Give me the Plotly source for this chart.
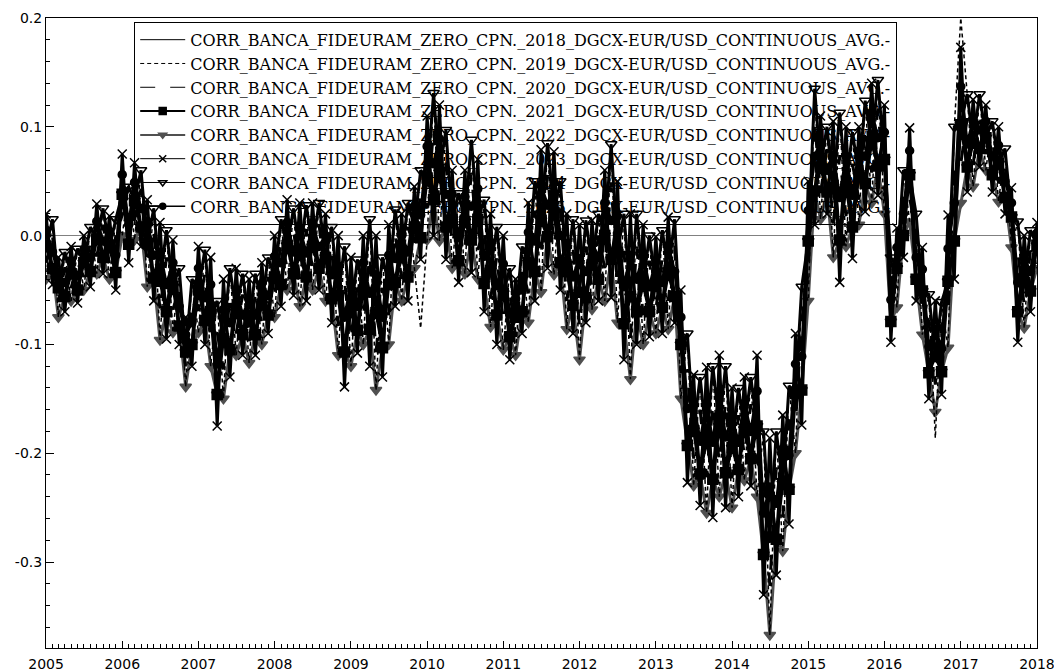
import pandas as pd
import plotly.graph_objects as go

# Monthly observation dates, Jan 2005 .. Jan 2018 (157 points)
dates = pd.date_range("2005-01-01", "2018-01-01", freq="MS")

names = [
    "CORR_BANCA_FIDEURAM_ZERO_CPN._2018_DGCX-EUR/USD_CONTINUOUS_AVG.-",
    "CORR_BANCA_FIDEURAM_ZERO_CPN._2019_DGCX-EUR/USD_CONTINUOUS_AVG.-",
    "CORR_BANCA_FIDEURAM_ZERO_CPN._2020_DGCX-EUR/USD_CONTINUOUS_AVG.-",
    "CORR_BANCA_FIDEURAM_ZERO_CPN._2021_DGCX-EUR/USD_CONTINUOUS_AVG.-",
    "CORR_BANCA_FIDEURAM_ZERO_CPN._2022_DGCX-EUR/USD_CONTINUOUS_AVG.-",
    "CORR_BANCA_FIDEURAM_ZERO_CPN._2023_DGCX-EUR/USD_CONTINUOUS_AVG.-",
    "CORR_BANCA_FIDEURAM_ZERO_CPN._2024_DGCX-EUR/USD_CONTINUOUS_AVG.-",
    "CORR_BANCA_FIDEURAM_ZERO_CPN._2025_DGCX-EUR/USD_CONTINUOUS_AVG.-",
]

s2018 = [0.005, -0.03, -0.034, -0.056, -0.023, -0.05, -0.013, -0.033, 0.013, -0.02,
         0.004, -0.034, 0.056, -0.008, 0.049, 0.008, 0.013, -0.039, -0.015, -0.07,
         -0.025, -0.083, -0.091, -0.1, -0.03, -0.078, -0.045, -0.146, -0.068, -0.105,
         -0.05, -0.091, -0.059, -0.091, -0.044, -0.073, -0.019, -0.045, 0.012, -0.035,
         0.006, -0.038, 0.01, -0.03, 0.0, -0.058, -0.028, -0.107, -0.045, -0.087,
         -0.025, -0.086, -0.036, -0.103, -0.018, -0.043, 0.0, -0.038, 0.026, -0.002,
         0.082, 0.033, 0.089, 0.008, 0.038, -0.023, 0.036, -0.004, 0.043, -0.044,
         -0.006, -0.073, -0.026, -0.093, -0.058, -0.07, 0.003, -0.033, 0.046, -0.001,
         0.049, -0.025, -0.007, -0.064, -0.021, -0.057, -0.007, -0.04, 0.03, -0.022,
         0.018, -0.081, -0.018, -0.07, -0.018, -0.07, -0.023, -0.066, -0.009, -0.056,
         -0.075, -0.193, -0.154, -0.219, -0.155, -0.224, -0.143, -0.218, -0.168, -0.215,
         -0.154, -0.205, -0.143, -0.293, -0.231, -0.279, -0.196, -0.233, -0.118, -0.142,
         0.023, 0.041, 0.086, 0.04, 0.074, -0.004, 0.073, 0.008, 0.078, 0.048,
         0.113, 0.064, 0.095, -0.079, -0.011, 0.0, 0.078, -0.04, -0.031, -0.126,
         -0.086, -0.125, -0.012, -0.005, 0.137, 0.063, 0.105, 0.08, 0.105, 0.056,
         0.083, 0.035, 0.03, -0.07, -0.021, -0.051, 0.002]

s2019 = [-0.04, 0.015, -0.075, -0.015, -0.06, -0.012, -0.05, 0.008, -0.035, 0.025,
         -0.04, 0.015, 0.0, 0.045, -0.004, 0.06, -0.047, 0.025, -0.096, 0.005,
         -0.089, -0.03, -0.139, -0.04, -0.089, -0.013, -0.12, -0.06, -0.15, -0.03,
         -0.11, -0.035, -0.117, -0.035, -0.1, -0.02, -0.075, 0.015, -0.05, 0.025,
         -0.065, 0.028, -0.05, 0.03, -0.06, 0.008, -0.11, -0.01, -0.12, -0.022,
         -0.1, 0.015, -0.142, -0.02, -0.1, 0.024, -0.06, 0.03, -0.03, -0.085,
         -0.004, 0.131, -0.005, 0.097, -0.03, 0.039, -0.035, 0.088, -0.04, 0.033,
         -0.084, 0.008, -0.105, -0.03, -0.11, -0.01, -0.08, 0.05, -0.052, 0.085,
         -0.036, 0.05, -0.086, 0.015, -0.114, 0.014, -0.068, 0.02, -0.06, 0.084,
         -0.08, 0.02, -0.132, 0.02, -0.1, 0.0, -0.09, 0.005, -0.086, 0.015,
         -0.15, -0.09, -0.23, -0.13, -0.255, -0.12, -0.24, -0.12, -0.25, -0.14,
         -0.225, -0.13, -0.24, -0.18, -0.367, -0.18, -0.29, -0.138, -0.2, -0.047,
         -0.06, 0.135, 0.015, 0.1, -0.02, 0.113, -0.01, 0.095, 0.01, 0.124,
         0.03, 0.143, 0.02, -0.02, -0.066, 0.06, 0.013, 0.02, -0.091, -0.054,
         -0.186, -0.061, -0.103, 0.1, 0.2, 0.13, 0.045, 0.13, 0.06, 0.105,
         0.031, 0.08, -0.011, 0.013, -0.085, 0.005, -0.03]

s2020 = [-0.025, 0.0, -0.061, -0.029, -0.048, -0.025, -0.038, -0.006, -0.019, 0.01,
         -0.026, -0.001, 0.019, 0.028, 0.014, 0.043, -0.027, 0.004, -0.069, -0.02,
         -0.068, -0.048, -0.123, -0.06, -0.069, -0.035, -0.095, -0.089, -0.123, -0.055,
         -0.09, -0.054, -0.098, -0.054, -0.081, -0.038, -0.056, -0.005, -0.029, 0.005,
         -0.041, 0.006, -0.03, 0.01, -0.04, -0.014, -0.083, -0.042, -0.095, -0.044,
         -0.075, -0.019, -0.107, -0.048, -0.073, 0.002, -0.04, 0.008, -0.011, 0.04,
         0.025, 0.098, 0.026, 0.067, -0.008, 0.019, -0.011, 0.058, -0.013, 0.007,
         -0.058, -0.019, -0.079, -0.051, -0.093, -0.03, -0.053, 0.023, -0.019, 0.056,
         -0.008, 0.025, -0.06, -0.011, -0.083, -0.01, -0.048, 0.0, -0.03, 0.049,
         -0.048, -0.014, -0.094, -0.01, -0.073, -0.023, -0.068, -0.019, -0.06, -0.009,
         -0.125, -0.124, -0.205, -0.16, -0.222, -0.155, -0.208, -0.153, -0.223, -0.165,
         -0.201, -0.155, -0.208, -0.218, -0.322, -0.213, -0.259, -0.17, -0.173, -0.079,
         -0.033, 0.104, 0.039, 0.08, 0.011, 0.074, 0.018, 0.066, 0.033, 0.099,
         0.058, 0.117, 0.045, -0.04, -0.048, 0.04, 0.035, 0.0, -0.071, -0.078,
         -0.137, -0.082, -0.073, 0.065, 0.066, 0.108, 0.065, 0.113, 0.075, 0.089,
         0.048, 0.065, 0.003, -0.015, -0.064, -0.014, -0.02]

s2021 = [-0.01, -0.03, -0.048, -0.056, -0.035, -0.05, -0.025, -0.033, -0.003, -0.02,
         -0.011, -0.034, 0.038, -0.008, 0.032, 0.008, -0.007, -0.039, -0.042, -0.07,
         -0.047, -0.083, -0.107, -0.1, -0.05, -0.078, -0.07, -0.146, -0.095, -0.105,
         -0.07, -0.091, -0.079, -0.091, -0.063, -0.073, -0.038, -0.045, -0.009, -0.035,
         -0.018, -0.038, -0.01, -0.03, -0.02, -0.058, -0.055, -0.107, -0.07, -0.087,
         -0.05, -0.086, -0.071, -0.103, -0.045, -0.043, -0.02, -0.038, 0.008, -0.002,
         0.053, 0.033, 0.058, 0.008, 0.015, -0.023, 0.013, -0.004, 0.015, -0.044,
         -0.032, -0.073, -0.053, -0.093, -0.075, -0.07, -0.025, -0.033, 0.014, -0.001,
         0.021, -0.025, -0.033, -0.064, -0.052, -0.057, -0.027, -0.04, 0.0, -0.022,
         -0.015, -0.081, -0.056, -0.07, -0.045, -0.07, -0.046, -0.066, -0.035, -0.056,
         -0.1, -0.193, -0.179, -0.219, -0.188, -0.224, -0.175, -0.218, -0.195, -0.215,
         -0.178, -0.205, -0.175, -0.293, -0.277, -0.279, -0.228, -0.233, -0.145, -0.142,
         -0.005, 0.041, 0.063, 0.04, 0.043, -0.004, 0.045, 0.008, 0.055, 0.048,
         0.085, 0.064, 0.07, -0.079, -0.03, 0.0, 0.056, -0.04, -0.051, -0.126,
         -0.111, -0.125, -0.042, -0.005, 0.102, 0.063, 0.085, 0.08, 0.09, 0.056,
         0.066, 0.035, 0.017, -0.07, -0.043, -0.051, -0.009]

s2022 = [-0.04, -0.03, -0.075, -0.056, -0.06, -0.05, -0.05, -0.033, -0.035, -0.02,
         -0.04, -0.034, 0.0, -0.008, -0.004, 0.008, -0.047, -0.039, -0.096, -0.07,
         -0.089, -0.083, -0.139, -0.1, -0.089, -0.078, -0.12, -0.146, -0.15, -0.105,
         -0.11, -0.091, -0.117, -0.091, -0.1, -0.073, -0.075, -0.045, -0.05, -0.035,
         -0.065, -0.038, -0.05, -0.03, -0.06, -0.058, -0.11, -0.107, -0.12, -0.087,
         -0.1, -0.086, -0.142, -0.103, -0.1, -0.043, -0.06, -0.038, -0.03, -0.002,
         -0.004, 0.033, -0.005, 0.008, -0.03, -0.023, -0.035, -0.004, -0.04, -0.044,
         -0.084, -0.073, -0.105, -0.093, -0.11, -0.07, -0.08, -0.033, -0.052, -0.001,
         -0.036, -0.025, -0.086, -0.064, -0.114, -0.057, -0.068, -0.04, -0.06, -0.022,
         -0.08, -0.081, -0.132, -0.07, -0.1, -0.07, -0.09, -0.066, -0.086, -0.056,
         -0.15, -0.193, -0.23, -0.219, -0.255, -0.224, -0.24, -0.218, -0.25, -0.215,
         -0.225, -0.205, -0.24, -0.293, -0.367, -0.279, -0.29, -0.233, -0.2, -0.142,
         -0.06, 0.041, 0.015, 0.04, -0.02, -0.004, -0.01, 0.008, 0.01, 0.048,
         0.03, 0.064, 0.02, -0.079, -0.066, 0.0, 0.013, -0.04, -0.091, -0.126,
         -0.162, -0.125, -0.103, -0.005, 0.03, 0.063, 0.045, 0.08, 0.06, 0.056,
         0.031, 0.035, -0.011, -0.07, -0.085, -0.051, -0.03]

s2023 = [0.02, -0.045, -0.02, -0.07, -0.01, -0.062, 0.0, -0.047, 0.029, -0.035,
         0.018, -0.05, 0.075, -0.025, 0.067, -0.01, 0.033, -0.06, 0.012, -0.095,
         -0.004, -0.1, -0.075, -0.12, -0.01, -0.1, -0.02, -0.175, -0.04, -0.13,
         -0.03, -0.11, -0.04, -0.11, -0.025, -0.09, 0.0, -0.065, 0.033, -0.055,
         0.03, -0.06, 0.03, -0.05, 0.02, -0.08, 0.0, -0.139, -0.02, -0.108,
         0.0, -0.12, 0.0, -0.13, 0.01, -0.065, 0.02, -0.06, 0.045, -0.022,
         0.11, 0.0, 0.12, -0.022, 0.06, -0.043, 0.06, -0.034, 0.07, -0.07,
         0.02, -0.1, 0.0, -0.114, -0.04, -0.09, 0.03, -0.06, 0.079, -0.03,
         0.077, -0.05, 0.02, -0.09, 0.01, -0.08, 0.014, -0.06, 0.06, -0.057,
         0.05, -0.114, 0.02, -0.1, 0.01, -0.093, -0.001, -0.09, 0.017, -0.08,
         -0.05, -0.227, -0.128, -0.248, -0.121, -0.259, -0.11, -0.25, -0.14, -0.24,
         -0.13, -0.23, -0.11, -0.33, -0.186, -0.312, -0.165, -0.265, -0.09, -0.174,
         0.05, 0.01, 0.11, 0.02, 0.105, -0.043, 0.1, -0.021, 0.1, 0.022,
         0.14, 0.037, 0.12, -0.098, 0.007, -0.02, 0.099, -0.06, -0.011, -0.15,
         -0.06, -0.146, 0.019, -0.04, 0.173, 0.04, 0.125, 0.063, 0.12, 0.04,
         0.1, 0.02, 0.044, -0.098, 0.0, -0.07, 0.012]

s2024 = [-0.01, 0.015, -0.048, -0.015, -0.035, -0.012, -0.025, 0.008, -0.003, 0.025,
         -0.011, 0.015, 0.038, 0.045, 0.032, 0.06, -0.007, 0.025, -0.042, 0.005,
         -0.047, -0.03, -0.107, -0.04, -0.05, -0.013, -0.07, -0.06, -0.095, -0.03,
         -0.07, -0.035, -0.079, -0.035, -0.063, -0.02, -0.038, 0.015, -0.009, 0.025,
         -0.018, 0.028, -0.01, 0.03, -0.02, 0.008, -0.055, -0.01, -0.07, -0.022,
         -0.05, 0.015, -0.071, -0.02, -0.045, 0.024, -0.02, 0.03, 0.008, 0.06,
         0.053, 0.131, 0.058, 0.097, 0.015, 0.039, 0.013, 0.088, 0.015, 0.033,
         -0.032, 0.008, -0.053, -0.03, -0.075, -0.01, -0.025, 0.05, 0.014, 0.085,
         0.021, 0.05, -0.033, 0.015, -0.052, 0.014, -0.027, 0.02, 0.0, 0.084,
         -0.015, 0.02, -0.056, 0.02, -0.045, 0.0, -0.046, 0.005, -0.035, 0.015,
         -0.1, -0.09, -0.179, -0.13, -0.188, -0.12, -0.175, -0.12, -0.195, -0.14,
         -0.178, -0.13, -0.175, -0.18, -0.277, -0.18, -0.228, -0.138, -0.145, -0.047,
         -0.005, 0.135, 0.063, 0.1, 0.043, 0.113, 0.045, 0.095, 0.055, 0.124,
         0.085, 0.143, 0.07, -0.02, -0.03, 0.06, 0.056, 0.02, -0.051, -0.054,
         -0.111, -0.061, -0.042, 0.1, 0.102, 0.13, 0.085, 0.13, 0.09, 0.105,
         0.066, 0.08, 0.017, 0.013, -0.043, 0.005, -0.009]

s2025 = [0.005, -0.015, -0.034, -0.043, -0.023, -0.037, -0.013, -0.02, 0.013, -0.005,
         0.004, -0.018, 0.056, 0.01, 0.049, 0.025, 0.013, -0.018, -0.015, -0.045,
         -0.025, -0.065, -0.091, -0.08, -0.03, -0.057, -0.045, -0.118, -0.068, -0.08,
         -0.05, -0.073, -0.059, -0.073, -0.044, -0.055, -0.019, -0.025, 0.012, -0.015,
         0.006, -0.016, 0.01, -0.01, 0.0, -0.036, -0.028, -0.075, -0.045, -0.065,
         -0.025, -0.053, -0.036, -0.075, -0.018, -0.021, 0.0, -0.015, 0.026, 0.019,
         0.082, 0.066, 0.089, 0.038, 0.038, -0.002, 0.036, 0.027, 0.043, -0.019,
         -0.006, -0.046, -0.026, -0.072, -0.058, -0.05, 0.003, -0.005, 0.046, 0.028,
         0.049, 0.0, -0.007, -0.038, -0.021, -0.033, -0.007, -0.02, 0.03, 0.014,
         0.018, -0.047, -0.018, -0.04, -0.018, -0.047, -0.023, -0.043, -0.009, -0.033,
         -0.075, -0.159, -0.154, -0.189, -0.155, -0.19, -0.143, -0.185, -0.168, -0.19,
         -0.154, -0.18, -0.143, -0.255, -0.231, -0.246, -0.196, -0.202, -0.118, -0.111,
         0.023, 0.073, 0.086, 0.06, 0.074, 0.035, 0.073, 0.037, 0.078, 0.073,
         0.113, 0.09, 0.095, -0.059, -0.011, 0.02, 0.078, -0.02, -0.031, -0.102,
         -0.086, -0.104, -0.012, 0.03, 0.137, 0.085, 0.105, 0.097, 0.105, 0.073,
         0.083, 0.05, 0.03, -0.043, -0.021, -0.033, 0.002]

series = [s2018, s2019, s2020, s2021, s2022, s2023, s2024, s2025]

year_ticks = ["2005-01-01", "2006-01-01", "2007-01-01", "2008-01-01", "2009-01-01",
              "2010-01-01", "2011-01-01", "2012-01-01", "2013-01-01", "2014-01-01",
              "2015-01-01", "2016-01-01", "2017-01-01", "2018-01-01"]
year_labels = ["2005", "2006", "2007", "2008", "2009", "2010", "2011", "2012",
               "2013", "2014", "2015", "2016", "2017", "2018"]
y_ticks = [0.2, 0.1, 0.0, -0.1, -0.2, -0.3]
y_labels = ["0.2", "0.1", "0.0", "-0.1", "-0.2", "-0.3"]

GRAY = "#505050"
# (line dash, line colour, marker symbol, marker colour)
looks = [
    ("solid", "black", None, None),
    ("4px,3px", "black", None, None),
    ("longdash", "black", None, None),
    ("solid", "black", "square", "black"),
    ("solid", GRAY, "triangle-down", GRAY),
    ("solid", "black", "x-thin-open", "black"),
    ("solid", "black", "triangle-down-open", "black"),
    ("solid", "black", "circle", "black"),
]
plot_line_w = [3, 1.5, 3, 3, 3, 3, 3, 3]
plot_marker_size = [0, 0, 0, 10, 10, 9, 10, 8]
legend_line_w = [1, 1, 1, 2, 2, 1, 1, 1.5]
legend_marker_size = [0, 0, 0, 7, 7, 7, 7, 6]


def style(i, line_w, msize):
    dash, lcol, sym, mcol = looks[i]
    st = dict(line=dict(color=lcol, width=line_w, dash=dash))
    if sym is None:
        st["mode"] = "lines"
    else:
        st["mode"] = "lines+markers"
        st["marker"] = dict(symbol=sym, size=msize, color=mcol,
                            line=dict(width=1.5, color=mcol))
    return st


fig = go.Figure()
# data traces: grey series first so the black ones sit on top of it
for i in [4, 0, 1, 2, 3, 5, 6, 7]:
    fig.add_trace(go.Scatter(x=dates, y=series[i], name=names[i], showlegend=False,
                             **style(i, plot_line_w[i], plot_marker_size[i])))
# legend entries with the thin sample styles of the original
for i in range(8):
    fig.add_trace(go.Scatter(x=[None], y=[None], name=names[i], showlegend=True,
                             hoverinfo="skip",
                             **style(i, legend_line_w[i], legend_marker_size[i])))

SERIF = "DejaVu Serif, Liberation Serif, serif"
SANS = "DejaVu Sans, Verdana, sans-serif"

fig.update_layout(
    width=1054, height=671,
    margin=dict(l=46, r=17, t=18, b=23),
    paper_bgcolor="white", plot_bgcolor="white",
    showlegend=True,
    legend=dict(
        x=0.089, y=0.994, xanchor="left", yanchor="top",
        bgcolor="rgba(255,255,255,0)", bordercolor="black", borderwidth=1,
        font=dict(family=SERIF, size=16, color="black"),
        itemwidth=45, tracegroupgap=0,
    ),
    xaxis=dict(
        type="date",
        range=["2004-12-31 18:00", "2018-01-01 06:00"],
        tickmode="array", tickvals=year_ticks, ticktext=year_labels,
        ticks="inside", ticklen=7, tickcolor="black", tickwidth=1,
        minor=dict(dtick="M1", tick0="2005-01-01", ticks="inside", ticklen=4,
                   tickcolor="black", showgrid=False),
        showline=True, linecolor="black", linewidth=1, mirror=True,
        showgrid=False, zeroline=False,
        automargin=False, ticklabeloverflow="allow",
        ticklabelstandoff=3,
        tickfont=dict(family=SANS, size=14, color="black"),
    ),
    yaxis=dict(
        range=[-0.379, 0.2],
        tickmode="array", tickvals=y_ticks, ticktext=y_labels,
        ticks="inside", ticklen=8, tickcolor="black", tickwidth=1,
        minor=dict(dtick=0.02, tick0=0, ticks="inside", ticklen=4,
                   tickcolor="black", showgrid=False),
        showline=True, linecolor="black", linewidth=1, mirror=True,
        showgrid=False, automargin=False,
        zeroline=True, zerolinecolor="#808080", zerolinewidth=1,
        tickfont=dict(family=SANS, size=14, color="black"),
    ),
)

fig.write_html("out.html", config={"displayModeBar": False},
               post_script="document.body.style.margin='0';")
